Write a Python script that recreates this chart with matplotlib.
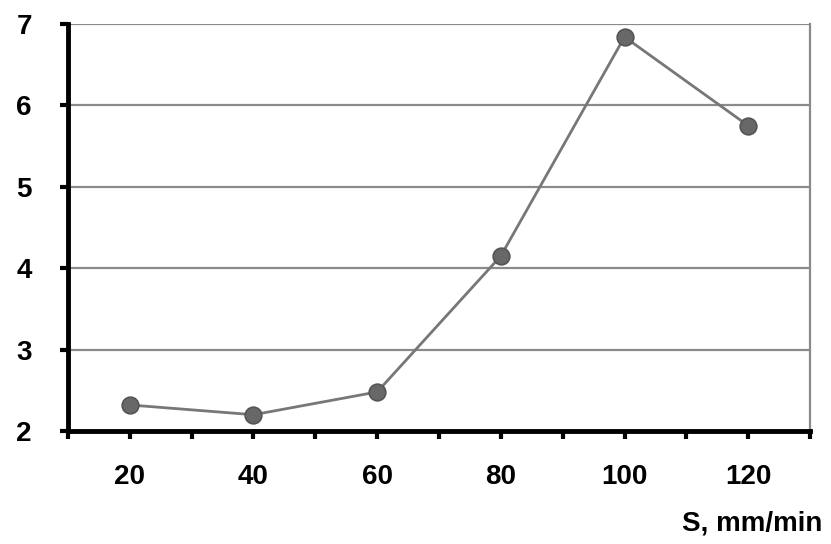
import matplotlib
matplotlib.use("Agg")
import matplotlib.pyplot as plt
import numpy as np

categories = ["20", "40", "60", "80", "100", "120"]
values = [2.32, 2.20, 2.48, 4.15, 6.84, 5.75]
y_ticks = [2, 3, 4, 5, 6, 7]
x_label = "S, mm/min"

plt.rcParams['font.family'] = ['Liberation Sans', 'DejaVu Sans']

fig = plt.figure(figsize=(8.31, 5.44), dpi=100)
ax = fig.add_axes([0.0818, 0.2077, 0.893, 0.7483])

x = np.arange(len(categories))
ax.plot(x, values, color='#777777', lw=2.0, zorder=3,
        marker='o', markersize=12, markerfacecolor='#686868',
        markeredgecolor='#555555', markeredgewidth=1.2)

ax.set_xlim(-0.5, len(categories) - 0.5)
ax.set_ylim(2, 7)

ax.set_yticks(y_ticks)
ax.set_yticklabels([str(t) for t in y_ticks], fontsize=20, fontweight='bold')
for t in y_ticks[1:]:
    ax.axhline(t, color='#8a8a8a', lw=1.6, zorder=1)

ax.set_xticks(x)
ax.set_xticklabels(categories, fontsize=20, fontweight='bold')
ax.set_xticks(np.arange(-0.5, len(categories), 1.0), minor=True)
ax.tick_params(axis='x', which='both', direction='out', length=6, width=3, color='black')
ax.tick_params(axis='x', which='major', pad=18)
ax.tick_params(axis='y', direction='out', length=6, width=3, color='black', pad=20)

ax.spines['left'].set_linewidth(3.5)
ax.spines['bottom'].set_linewidth(3.5)
ax.spines['right'].set_color('#8a8a8a')
ax.spines['right'].set_linewidth(1.6)
ax.spines['top'].set_visible(False)

fig.text(0.99, 0.038, x_label, ha='right', va='center', fontsize=20, fontweight='bold')

fig.savefig("out.png", dpi=100)
